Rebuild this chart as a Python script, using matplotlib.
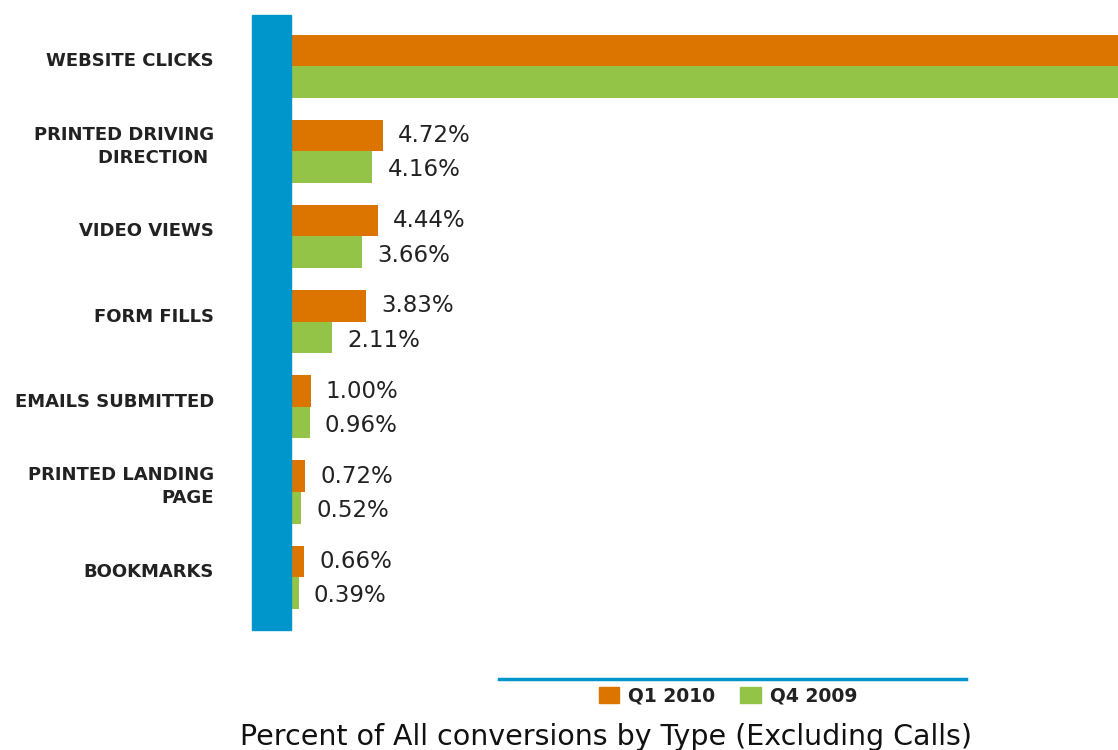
import numpy as np
import matplotlib
matplotlib.use("Agg")
import matplotlib.pyplot as plt
from matplotlib.patches import Patch, Rectangle
from matplotlib.lines import Line2D
from matplotlib.transforms import blended_transform_factory

# data
categories = ["WEBSITE CLICKS", "PRINTED DRIVING\nDIRECTION ", "VIDEO VIEWS", "FORM FILLS",
              "EMAILS SUBMITTED", "PRINTED LANDING\nPAGE", "BOOKMARKS"]
q1_2010 = [84.63, 4.72, 4.44, 3.83, 1.00, 0.72, 0.66]
q4_2009 = [88.20, 4.16, 3.66, 2.11, 0.96, 0.52, 0.39]
series_names = ["Q1 2010", "Q4 2009"]
title = "Percent of All conversions by Type (Excluding Calls)"

ORANGE = "#DB7500"
GREEN = "#94C447"
BLUE = "#0096CC"
TEXT = "#222222"

W, H = 1118, 750
fig = plt.figure(figsize=(W / 100, H / 100), dpi=100)
ax = fig.add_axes([291 / W, (H - 630) / H, (W - 291) / W, 615 / H])

y = np.arange(len(categories))
bh = 0.37
ax.barh(y - bh / 2, q1_2010, height=bh, color=ORANGE)
ax.barh(y + bh / 2, q4_2009, height=bh, color=GREEN)

ax.set_xlim(0, 827 / 19.5)
ax.set_ylim(len(categories) - 1 + 0.62, -0.6)

# value labels (website clicks runs off the chart, no label)
for i in range(1, len(categories)):
    ax.annotate("{:.2f}%".format(q1_2010[i]), (q1_2010[i], y[i] - bh / 2),
                xytext=(11, 0), textcoords="offset points", va="center",
                fontsize=16.5, color=TEXT)
    ax.annotate("{:.2f}%".format(q4_2009[i]), (q4_2009[i], y[i] + bh / 2),
                xytext=(11, -2), textcoords="offset points", va="center",
                fontsize=16.5, color=TEXT)

# category labels
ax.set_yticks([])
ax.set_xticks([])
lbl_tr = blended_transform_factory(fig.transFigure, ax.transData)
for i, c in enumerate(categories):
    ax.text(214 / W, y[i] - 0.06, c, transform=lbl_tr, ha="right", va="center",
            fontsize=13, fontweight="bold", color=TEXT, linespacing=1.35)
for s in ax.spines.values():
    s.set_visible(False)

# thick blue axis bar
fig.patches.append(Rectangle((252 / W, (H - 630) / H), 39 / W, 615 / H,
                             transform=fig.transFigure, color=BLUE, zorder=3))

# legend rule and legend
fig.add_artist(Line2D([499 / W, 966 / W], [1 - 679 / H, 1 - 679 / H],
                      transform=fig.transFigure, color=BLUE, lw=2.5))
handles = [Patch(color=ORANGE), Patch(color=GREEN)]
leg = fig.legend(handles, series_names, loc="center", ncol=2, frameon=False,
                 bbox_to_anchor=(728 / W, 1 - 696 / H), handlelength=1.1,
                 handleheight=0.9, handletextpad=0.5, columnspacing=1.3,
                 prop={"size": 13.5, "weight": "bold"})
for t in leg.get_texts():
    t.set_color(TEXT)

fig.text(606 / W, 1 - 737 / H, title, ha="center", va="center",
         fontsize=20.5, color="#111111")

fig.savefig("out.png", dpi=100, facecolor="white")
